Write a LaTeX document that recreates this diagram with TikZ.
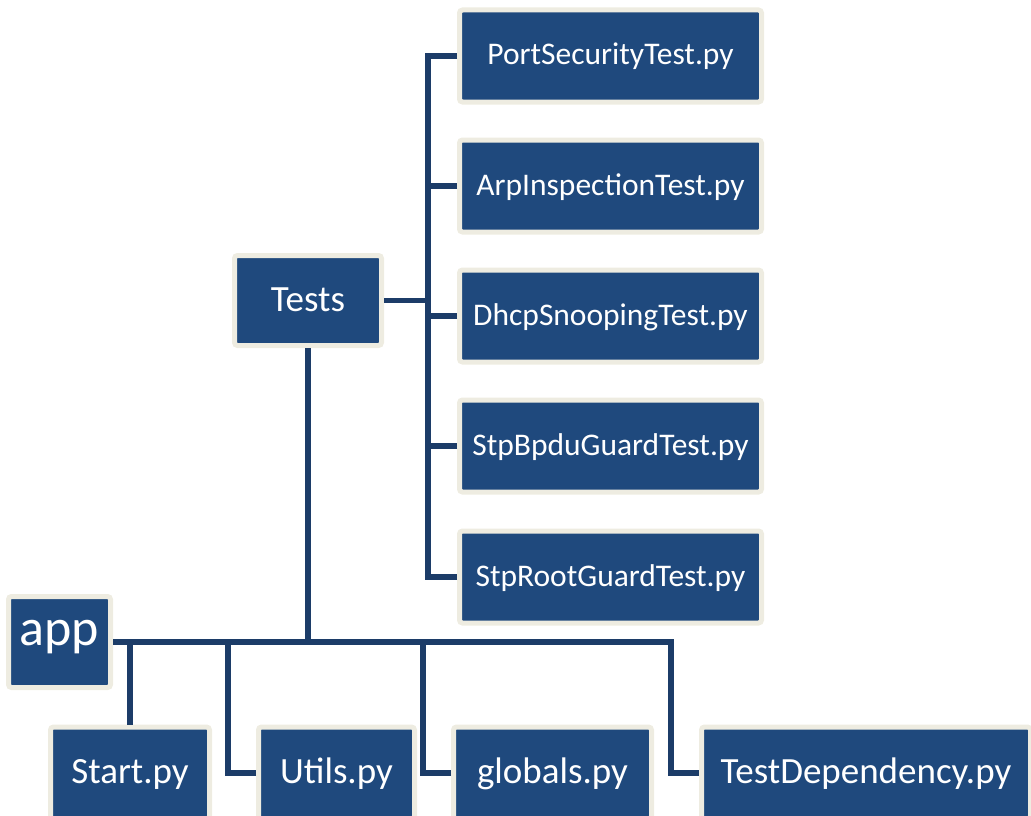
\documentclass[tikz,border=0pt]{standalone}
\usepackage{fontspec}
\setmainfont{Carlito}
\usetikzlibrary{positioning}
\definecolor{boxblue}{HTML}{1F497D}
\definecolor{boxrim}{HTML}{EEECE1}
\definecolor{wire}{HTML}{1C3C68}

\begin{document}
\begin{tikzpicture}[x=1pt, y=-1pt,
  box/.style={rectangle, draw=boxrim, fill=boxblue, line width=5pt, rounded corners=3pt, text=white, inner sep=0pt, minimum height=92pt, text depth=6pt},
  leaf/.style={box, minimum width=302pt, text height=24pt, font=\fontsize{31.5}{36}\selectfont},
  file/.style={box, text height=26pt, font=\fontsize{37}{42}\selectfont},
  link/.style={draw=wire, line width=5.5pt}]
\useasboundingbox (0,0) rectangle (1031,816);
\clip (0,0) rectangle (1031,816);
% folders
\node[box, minimum width=102pt, minimum height=91pt, text height=12pt, font=\fontsize{52}{60}\selectfont] (app) at (59.5,642) {app};
\node[box, minimum width=147pt, minimum height=90pt, text height=27pt, font=\fontsize{37}{42}\selectfont] (tests) at (308,300.5) {Tests};
% test scripts
\foreach \name/\y [count=\i] in {PortSecurityTest.py/56, ArpInspectionTest.py/186, DhcpSnoopingTest.py/316, StpBpduGuardTest.py/446, StpRootGuardTest.py/577}
  \node[leaf] (t\i) at (610.5,\y) {\name};
% top level files
\node[file, minimum width=159pt] (start) at (130,773) {Start.py};
\node[file, minimum width=156pt] (utils) at (336.5,773) {Utils.py};
\node[file, minimum width=198pt] (globals) at (552.5,773) {globals.py};
\node[file, minimum width=329pt] (dep) at (866,773) {TestDependency.py};
% tree lines
\draw[link] (tests.south) -- (tests.south |- app.east);
\draw[link] (start.north) -- (start.north |- app.east);
\foreach \n in {utils,globals,dep} \draw[link] (\n.west) -- ++(-28,0) |- (app.east);
\foreach \i in {1,...,5} \draw[link] (t\i.west) -- ++(-29,0) |- (tests.east);
\end{tikzpicture}
\end{document}
